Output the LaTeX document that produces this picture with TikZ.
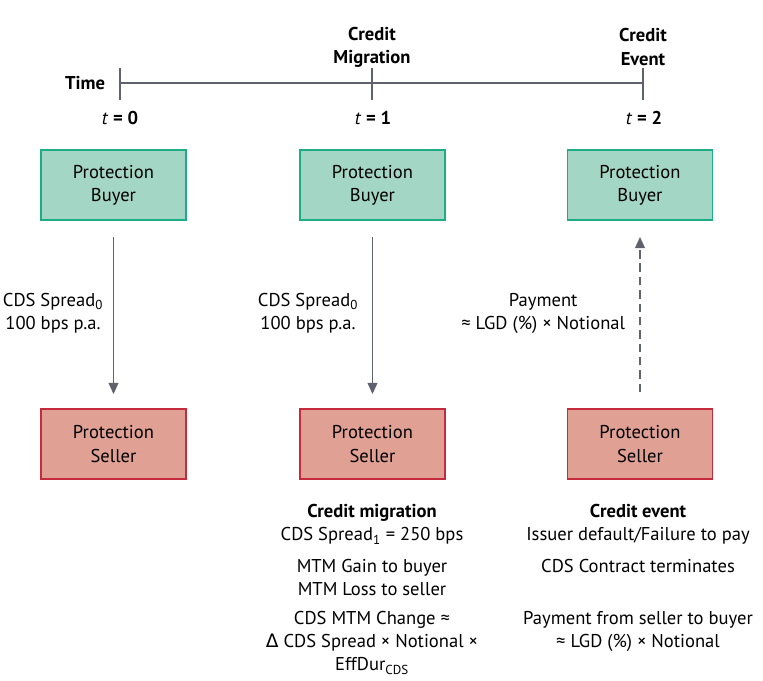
\documentclass[tikz,border=0pt]{standalone}
\usepackage{fontspec}
\setmainfont{PT Sans}
\newfontfamily\grkfont{DejaVu Sans}
\usetikzlibrary{arrows.meta}
\definecolor{linegrey}{RGB}{95,98,108}
\definecolor{buyfill}{RGB}{163,214,197}
\definecolor{buyedge}{RGB}{30,172,132}
\definecolor{sellfill}{RGB}{224,160,148}
\definecolor{selledge}{RGB}{196,44,62}
\begin{document}
\begin{tikzpicture}[x=0.025cm,y=-0.025cm,
  every node/.style={font=\fontsize{13.2}{16.4}\selectfont,align=center},
  party/.style={minimum width=3.625cm,minimum height=1.75cm,line width=1.2pt,inner sep=0pt},
  buyer/.style={party,draw=buyedge,fill=buyfill},
  seller/.style={party,draw=selledge,fill=sellfill},
  hd/.style={font=\fontsize{13.2}{16.4}\selectfont\bfseries},
  tl/.style={linegrey,line width=1.3pt},
  ar/.style={-{Triangle[length=2.8mm,width=2.4mm]},linegrey,line width=1.3pt,shorten <=0.4cm,shorten >=0.35cm}]
\useasboundingbox (0,0) rectangle (763,680);
% time line
\coordinate (t0) at (120,83);
\coordinate (t1) at (372,83);
\coordinate (t2) at (643,83);
\draw[tl] (t0) -- (t2);
\foreach \c in {t0,t1,t2} \draw[tl] (\c) ++(0,-15) -- ++(0,32);
\node[hd] (time) at (85,83) {Time};
\node[hd] (hmig) at (372,47) {Credit\\Migration};
\node[hd] (hevt) at (643,47) {Credit\\Event};
\node (l0) at (120,118) {\textit{t} \textbf{= 0}};
\node (l1) at (373,118) {\textit{t} \textbf{= 1}};
\node (l2) at (644,118) {\textit{t} \textbf{= 2}};
% parties
\node[buyer] (b1) at (113.5,185) {Protection\\Buyer};
\node[buyer] (b2) at (372.5,185) {Protection\\Buyer};
\node[buyer] (b3) at (640,185) {Protection\\Buyer};
\node[seller] (s1) at (113.5,444) {Protection\\Seller};
\node[seller] (s2) at (372.5,444) {Protection\\Seller};
\node[seller] (s3) at (640,444) {Protection\\Seller};
\draw[ar] (b1) -- (s1);
\draw[ar] (b2) -- (s2);
\draw[ar,dashed,dash pattern=on 6pt off 3.5pt,shorten >=0.4cm] (s3) -- (b3);
\node (p1) at (53,313) {CDS Spread\textsubscript{0}\\100 bps p.a.};
\node (p2) at (308,313) {CDS Spread\textsubscript{0}\\100 bps p.a.};
\node[anchor=east] (p3) at (630,313) {Payment\\≈ LGD (\%) × Notional};
% notes
\node (mig) at (372,524.5) {\textbf{Credit migration}\\CDS Spread\textsubscript{1} = 250 bps};
\node (mtm) at (372,577.5) {MTM Gain to buyer\\MTM Loss to seller};
\node (chg) at (372,643) {CDS MTM Change ≈\\{\grkfont Δ} CDS Spread × Notional ×\\EffDur\textsubscript{CDS}};
\node (evt) at (638,524.5) {\textbf{Credit event}\\Issuer default/Failure to pay};
\node (term) at (638,566) {CDS Contract terminates};
\node (pay) at (638,631.5) {Payment from seller to buyer\\≈ LGD (\%) × Notional};
\end{tikzpicture}
\end{document}
